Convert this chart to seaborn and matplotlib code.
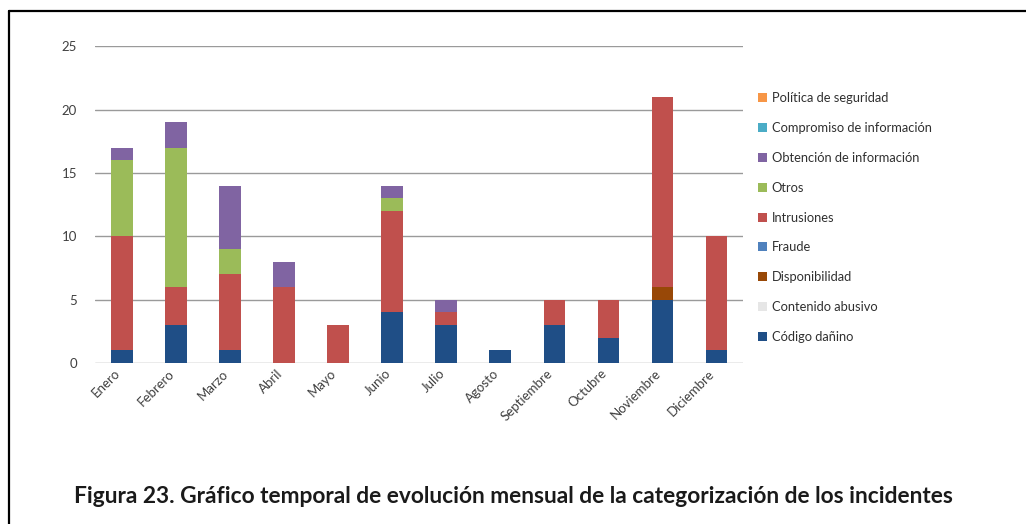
import numpy as np
import matplotlib
matplotlib.use('Agg')
import matplotlib.pyplot as plt
import matplotlib.transforms as mtransforms
import seaborn as sns
from matplotlib.patches import Patch
from matplotlib.lines import Line2D

# Data
meses = ['Enero', 'Febrero', 'Marzo', 'Abril', 'Mayo', 'Junio', 'Julio',
         'Agosto', 'Septiembre', 'Octubre', 'Noviembre', 'Diciembre']

# stacking order: bottom -> top
categorias = ['Código dañino', 'Contenido abusivo', 'Disponibilidad', 'Fraude',
              'Intrusiones', 'Otros', 'Obtención de información',
              'Compromiso de información', 'Política de seguridad']

codigo_danino = [1, 3, 1, 0, 0, 4, 3, 1, 3, 2, 5, 1]
contenido_abusivo = [0, 0, 0, 0, 0, 0, 0, 0, 0, 0, 0, 0]
disponibilidad = [0, 0, 0, 0, 0, 0, 0, 0, 0, 0, 1, 0]
fraude = [0, 0, 0, 0, 0, 0, 0, 0, 0, 0, 0, 0]
intrusiones = [9, 3, 6, 6, 3, 8, 1, 0, 2, 3, 15, 9]
otros = [6, 11, 2, 0, 0, 1, 0, 0, 0, 0, 0, 0]
obtencion = [1, 2, 5, 2, 0, 1, 1, 0, 0, 0, 0, 0]
compromiso = [0, 0, 0, 0, 0, 0, 0, 0, 0, 0, 0, 0]
politica = [0, 0, 0, 0, 0, 0, 0, 0, 0, 0, 0, 0]

series = [codigo_danino, contenido_abusivo, disponibilidad, fraude,
          intrusiones, otros, obtencion, compromiso, politica]
colores = ['#1F4E86', '#E6E6E6', '#984807', '#4F81BD', '#C0504D',
           '#9BBB59', '#8064A2', '#4BACC6', '#F79646']

sns.set_style('white')
plt.rcParams['font.family'] = ['Lato', 'DejaVu Sans']

fig = plt.figure(figsize=(10.26, 5.24), dpi=100)
ax = fig.add_axes([0.0926, 0.307, 0.632, 0.605])

bottom = np.zeros(len(meses))
for cat, vals, col in zip(categorias, series, colores):
    sns.barplot(x=meses, y=vals, bottom=bottom, color=col, width=0.4,
                ax=ax, saturation=1, linewidth=0, zorder=3)
    bottom += np.array(vals)

ax.set_ylim(0, 25)
ax.set_xlim(-0.5, 11.5)
ax.set_yticks([0, 5, 10, 15, 20, 25])
ax.yaxis.grid(True, color='#9A9A9A', linewidth=1, zorder=0)
ax.set_axisbelow(True)
for s in ax.spines.values():
    s.set_visible(False)
ax.tick_params(axis='both', length=0, labelsize=9.5, colors='#404040')
ax.tick_params(axis='y', pad=13)
ax.tick_params(axis='x', pad=3)
shift = mtransforms.ScaledTranslation(-8 / 100, 0, fig.dpi_scale_trans)
for lab in ax.get_xticklabels():
    lab.set_rotation(45)
    lab.set_ha('right')
    lab.set_rotation_mode('anchor')
    lab.set_transform(lab.get_transform() + shift)
ax.set_xlabel('')
ax.set_ylabel('')

handles = [Patch(facecolor=c, edgecolor='none', label=l)
           for l, c in zip(categorias[::-1], colores[::-1])]
fig.legend(handles=handles, loc='upper left', bbox_to_anchor=(0.727, 0.846),
           frameon=False, fontsize=9.3, handlelength=0.7, handleheight=0.7,
           handletextpad=0.4, labelspacing=1.38, labelcolor='#303030')

fig.text(0.5, 0.052,
         'Figura 23. Gráfico temporal de evolución mensual de la categorización de los incidentes',
         ha='center', va='center', fontsize=16.4, fontweight='bold', color='#1a1a1a')

# frame of the original figure box
fig.add_artist(Line2D([0.0088, 1.0], [0.979, 0.979], transform=fig.transFigure,
                      color='black', linewidth=1.6))
fig.add_artist(Line2D([0.0088, 0.0088], [0.0, 0.979], transform=fig.transFigure,
                      color='black', linewidth=1.6))

fig.savefig('out.png', dpi=100)
